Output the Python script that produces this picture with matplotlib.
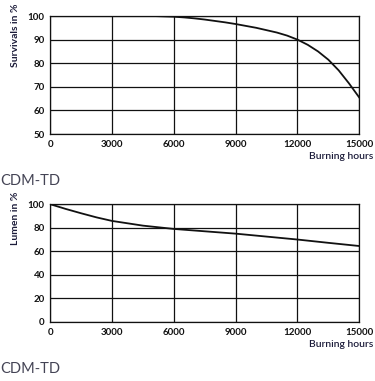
import matplotlib
matplotlib.use("Agg")
import matplotlib.pyplot as plt

# survival curve
surv_hours = [0, 3000, 5000, 6000, 6500, 7000, 7500, 8000, 8500, 9000, 9500, 10000,
              10500, 11000, 11500, 12000, 12500, 13000, 13500, 14000, 14500, 15000]
surv_pct = [100, 100, 100, 99.7, 99.4, 99.0, 98.5, 97.9, 97.3, 96.6, 95.8, 95.0,
            94.0, 93.0, 91.7, 90.0, 87.8, 85.0, 81.5, 77.0, 71.5, 65.5]

# lumen maintenance curve
lum_hours = [0, 750, 1500, 2250, 3000, 4500, 6000, 7500, 9000, 10500, 12000, 13500, 15000]
lum_pct = [100, 96, 92.3, 88.8, 85.8, 81.8, 79, 77, 75, 72.5, 70, 67.2, 64.5]

x_ticks = [0, 3000, 6000, 9000, 12000, 15000]
surv_ticks = [50, 60, 70, 80, 90, 100]
lum_ticks = [0, 20, 40, 60, 80, 100]

plt.rcParams['font.family'] = ['Lato', 'DejaVu Sans']

fig = plt.figure(figsize=(3.75, 3.81), dpi=100)


def panel(rect, x, y, yticks, ylabel):
    ax = fig.add_axes(rect)
    ax.plot(x, y, color='#111111', lw=1.3, zorder=3)
    ax.set_xlim(0, 15000)
    ax.set_ylim(yticks[0], yticks[-1])
    ax.set_xticks(x_ticks)
    ax.set_yticks(yticks)
    ax.tick_params(length=0, labelsize=7, pad=4, colors='#111111')
    for lab in ax.get_xticklabels() + ax.get_yticklabels():
        lab.set_fontweight('bold')
    ax.grid(True, color='#111111', lw=0.9)
    for s in ax.spines.values():
        s.set_color('#111111')
        s.set_linewidth(0.9)
    ax.text(-0.111, 1.11, ylabel, transform=ax.transAxes, rotation=90,
            ha='center', va='top', fontsize=7.5, fontweight='bold', color='#1c1c3a')
    ax.text(1.045, -0.19, 'Burning hours', transform=ax.transAxes,
            ha='right', va='center', fontsize=7.5, fontweight='semibold', color='#1c1c3a')
    return ax


panel([0.134, 0.648, 0.824, 0.310], surv_hours, surv_pct, surv_ticks, 'Survivals in %')
panel([0.134, 0.155, 0.824, 0.309], lum_hours, lum_pct, lum_ticks, 'Lumen in %')

fig.text(0.0, 1 - 181 / 381, 'CDM-TD', ha='left', va='center', fontsize=10.5, color='#444455')
fig.text(0.0, 1 - 369 / 381, 'CDM-TD', ha='left', va='center', fontsize=10.5, color='#444455')

fig.savefig('out.png', dpi=100)
